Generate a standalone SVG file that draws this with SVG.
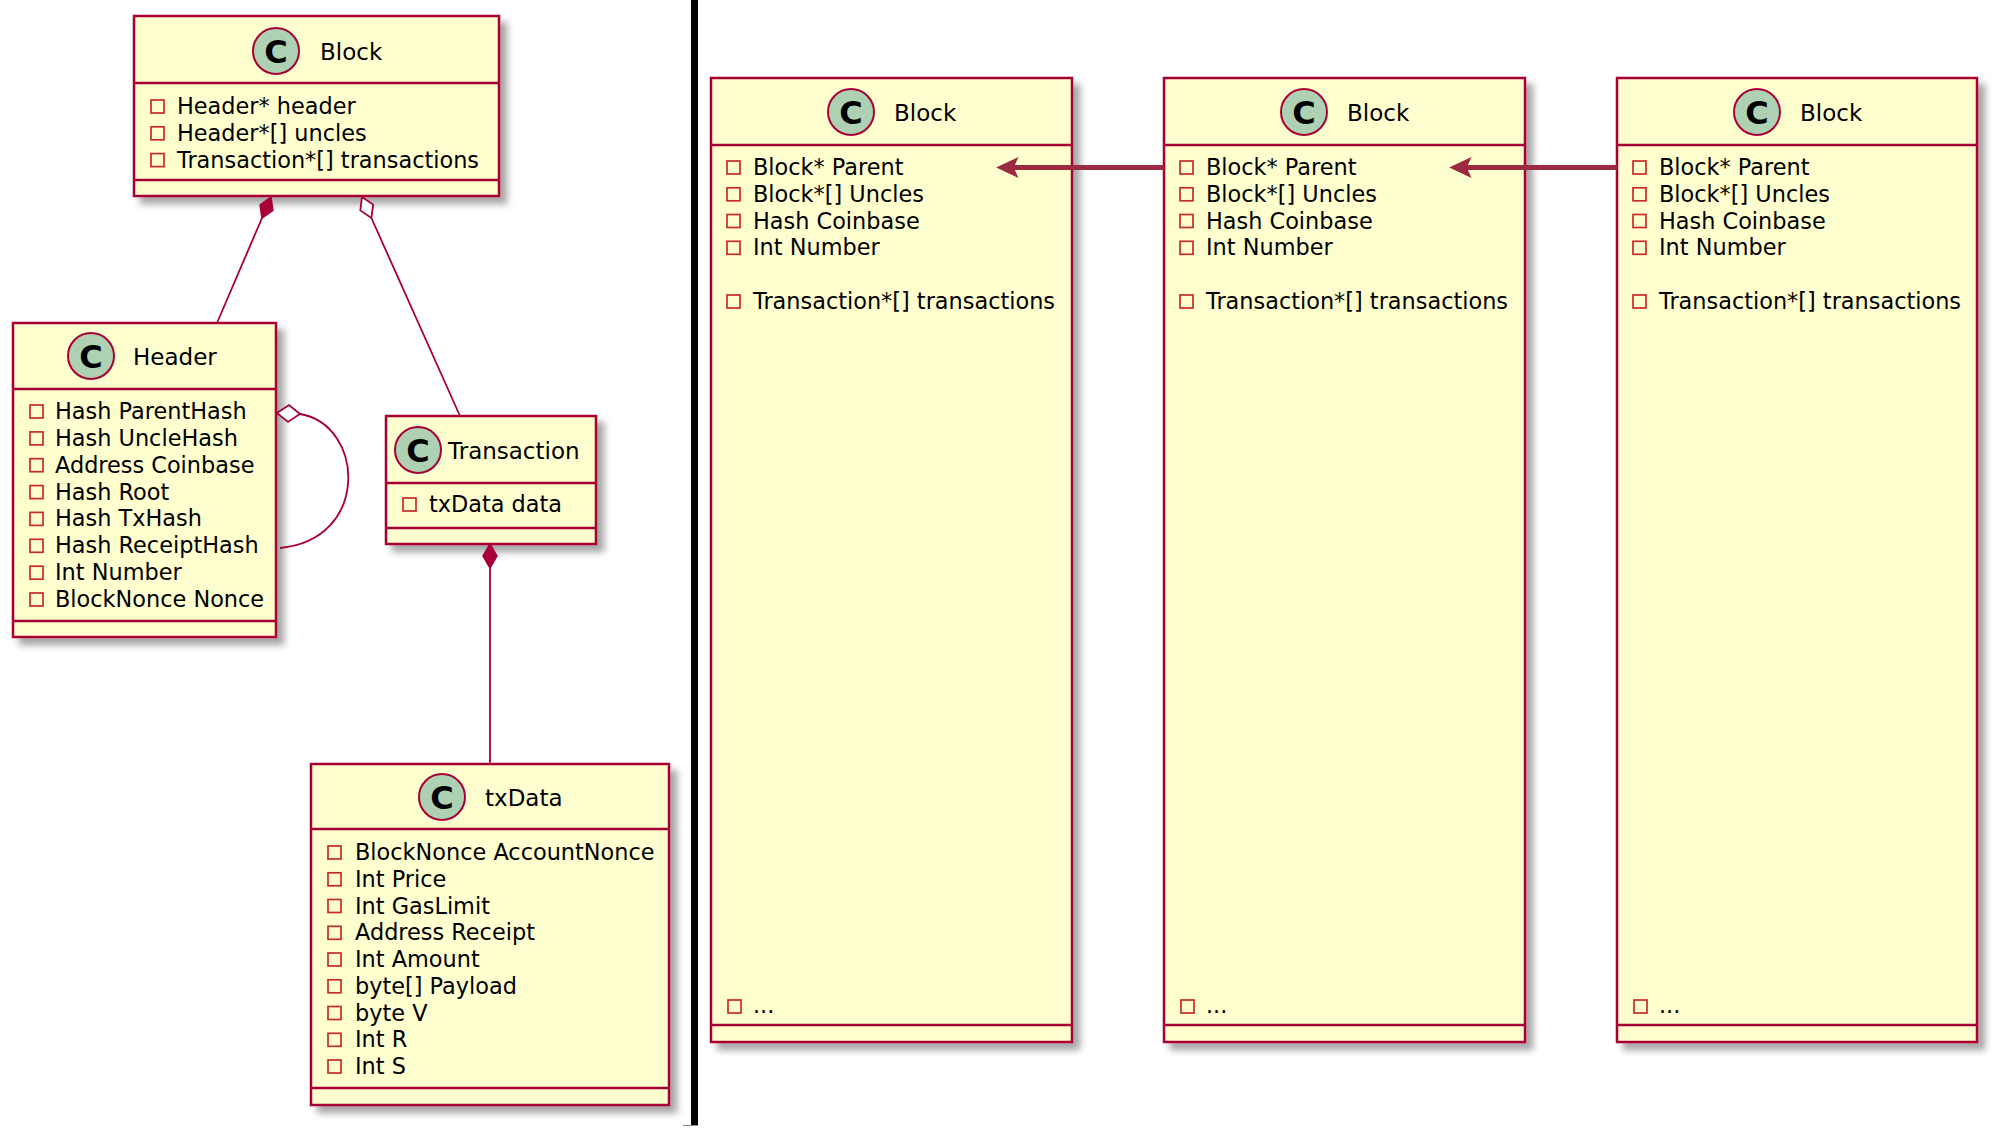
<svg xmlns="http://www.w3.org/2000/svg" width="1999" height="1133" viewBox="0 0 1999 1133">
<defs>
<filter id="sh" x="-10%" y="-10%" width="125%" height="125%">
<feDropShadow dx="7" dy="7" stdDeviation="3.5" flood-color="#000" flood-opacity="0.35"/>
</filter>
</defs>
<style>
.box{fill:#FEFECE;stroke:#A80036;stroke-width:2.5}
.sep{stroke:#A80036;stroke-width:2.5}
.circ{fill:#ADD1B2;stroke:#A80036;stroke-width:2}
.cl{font-family:"DejaVu Sans",sans-serif;font-weight:bold;font-size:32px;text-anchor:middle;fill:#000}
.ttl{font-family:"DejaVu Sans",sans-serif;font-size:23px;fill:#000}
.at{font-family:"DejaVu Sans",sans-serif;font-size:22.4px;fill:#000}
.sq{fill:none;stroke:#C82930;stroke-width:1.7}
.ln{fill:none;stroke:#A80036;stroke-width:1.8}
.arr{fill:none;stroke:#9C2A40;stroke-width:5}
.ah{fill:#9C2A40;stroke:#9C2A40;stroke-width:1.5}
</style>
<rect x="691" y="0" width="7" height="1125" fill="#000"/>
<line x1="683" y1="1125.5" x2="698" y2="1125.5" stroke="#888" stroke-width="1"/>
<g id="block-top">
<rect class="box" x="134" y="16" width="365" height="180" filter="url(#sh)"/>
<line class="sep" x1="134" y1="83" x2="499" y2="83"/>
<line class="sep" x1="134" y1="180" x2="499" y2="180"/>
<circle class="circ" cx="276" cy="51" r="23"/>
<text class="cl" x="276" y="62.5">C</text>
<text class="ttl" x="320" y="60">Block</text>
<rect class="sq" x="151" y="100" width="13" height="13"/>
<text class="at" x="177" y="114">Header* header</text>
<rect class="sq" x="151" y="126.8" width="13" height="13"/>
<text class="at" x="177" y="140.8">Header*[] uncles</text>
<rect class="sq" x="151" y="153.6" width="13" height="13"/>
<text class="at" x="177" y="167.6">Transaction*[] transactions</text>
</g>
<g id="header">
<rect class="box" x="13" y="323" width="263" height="314" filter="url(#sh)"/>
<line class="sep" x1="13" y1="389" x2="276" y2="389"/>
<line class="sep" x1="13" y1="621" x2="276" y2="621"/>
<circle class="circ" cx="91" cy="356" r="23"/>
<text class="cl" x="91" y="367.5">C</text>
<text class="ttl" x="133" y="365">Header</text>
<rect class="sq" x="30" y="405" width="13" height="13"/>
<text class="at" x="55" y="419">Hash ParentHash</text>
<rect class="sq" x="30" y="431.9" width="13" height="13"/>
<text class="at" x="55" y="445.9">Hash UncleHash</text>
<rect class="sq" x="30" y="458.7" width="13" height="13"/>
<text class="at" x="55" y="472.7">Address Coinbase</text>
<rect class="sq" x="30" y="485.6" width="13" height="13"/>
<text class="at" x="55" y="499.6">Hash Root</text>
<rect class="sq" x="30" y="512.4" width="13" height="13"/>
<text class="at" x="55" y="526.4">Hash TxHash</text>
<rect class="sq" x="30" y="539.3" width="13" height="13"/>
<text class="at" x="55" y="553.3">Hash ReceiptHash</text>
<rect class="sq" x="30" y="566.2" width="13" height="13"/>
<text class="at" x="55" y="580.2">Int Number</text>
<rect class="sq" x="30" y="593" width="13" height="13"/>
<text class="at" x="55" y="607">BlockNonce Nonce</text>
</g>
<g id="transaction">
<rect class="box" x="386" y="416" width="210" height="128" filter="url(#sh)"/>
<line class="sep" x1="386" y1="483" x2="596" y2="483"/>
<line class="sep" x1="386" y1="528" x2="596" y2="528"/>
<circle class="circ" cx="418" cy="450" r="23"/>
<text class="cl" x="418" y="461.5">C</text>
<text class="ttl" x="448" y="459">Transaction</text>
<rect class="sq" x="403" y="498" width="13" height="13"/>
<text class="at" x="429" y="512">txData data</text>
</g>
<g id="txdata">
<rect class="box" x="311" y="764" width="358" height="341" filter="url(#sh)"/>
<line class="sep" x1="311" y1="829" x2="669" y2="829"/>
<line class="sep" x1="311" y1="1088" x2="669" y2="1088"/>
<circle class="circ" cx="442" cy="797" r="23"/>
<text class="cl" x="442" y="808.5">C</text>
<text class="ttl" x="485" y="806">txData</text>
<rect class="sq" x="328" y="846" width="13" height="13"/>
<text class="at" x="355" y="860">BlockNonce AccountNonce</text>
<rect class="sq" x="328" y="872.8" width="13" height="13"/>
<text class="at" x="355" y="886.8">Int Price</text>
<rect class="sq" x="328" y="899.5" width="13" height="13"/>
<text class="at" x="355" y="913.5">Int GasLimit</text>
<rect class="sq" x="328" y="926.3" width="13" height="13"/>
<text class="at" x="355" y="940.3">Address Receipt</text>
<rect class="sq" x="328" y="953" width="13" height="13"/>
<text class="at" x="355" y="967">Int Amount</text>
<rect class="sq" x="328" y="979.8" width="13" height="13"/>
<text class="at" x="355" y="993.8">byte[] Payload</text>
<rect class="sq" x="328" y="1006.5" width="13" height="13"/>
<text class="at" x="355" y="1020.5">byte V</text>
<rect class="sq" x="328" y="1033.3" width="13" height="13"/>
<text class="at" x="355" y="1047.3">Int R</text>
<rect class="sq" x="328" y="1060" width="13" height="13"/>
<text class="at" x="355" y="1074">Int S</text>
</g>
<g id="block-1">
<rect class="box" x="711" y="78" width="361" height="964" filter="url(#sh)"/>
<line class="sep" x1="711" y1="145" x2="1072" y2="145"/>
<line class="sep" x1="711" y1="1025" x2="1072" y2="1025"/>
<circle class="circ" cx="851" cy="112" r="23"/>
<text class="cl" x="851" y="123.5">C</text>
<text class="ttl" x="894" y="121">Block</text>
<rect class="sq" x="727" y="161" width="13" height="13"/>
<text class="at" x="753" y="175">Block* Parent</text>
<rect class="sq" x="727" y="187.8" width="13" height="13"/>
<text class="at" x="753" y="201.8">Block*[] Uncles</text>
<rect class="sq" x="727" y="214.5" width="13" height="13"/>
<text class="at" x="753" y="228.5">Hash Coinbase</text>
<rect class="sq" x="727" y="241.3" width="13" height="13"/>
<text class="at" x="753" y="255.3">Int Number</text>
<rect class="sq" x="727" y="295" width="13" height="13"/>
<text class="at" x="753" y="308.8">Transaction*[] transactions</text>
<rect class="sq" x="728" y="1000" width="13" height="13"/>
<text class="at" x="753" y="1013">...</text>
</g>
<g id="block-2">
<rect class="box" x="1164" y="78" width="361" height="964" filter="url(#sh)"/>
<line class="sep" x1="1164" y1="145" x2="1525" y2="145"/>
<line class="sep" x1="1164" y1="1025" x2="1525" y2="1025"/>
<circle class="circ" cx="1304" cy="112" r="23"/>
<text class="cl" x="1304" y="123.5">C</text>
<text class="ttl" x="1347" y="121">Block</text>
<rect class="sq" x="1180" y="161" width="13" height="13"/>
<text class="at" x="1206" y="175">Block* Parent</text>
<rect class="sq" x="1180" y="187.8" width="13" height="13"/>
<text class="at" x="1206" y="201.8">Block*[] Uncles</text>
<rect class="sq" x="1180" y="214.5" width="13" height="13"/>
<text class="at" x="1206" y="228.5">Hash Coinbase</text>
<rect class="sq" x="1180" y="241.3" width="13" height="13"/>
<text class="at" x="1206" y="255.3">Int Number</text>
<rect class="sq" x="1180" y="295" width="13" height="13"/>
<text class="at" x="1206" y="308.8">Transaction*[] transactions</text>
<rect class="sq" x="1181" y="1000" width="13" height="13"/>
<text class="at" x="1206" y="1013">...</text>
</g>
<g id="block-3">
<rect class="box" x="1617" y="78" width="360" height="964" filter="url(#sh)"/>
<line class="sep" x1="1617" y1="145" x2="1977" y2="145"/>
<line class="sep" x1="1617" y1="1025" x2="1977" y2="1025"/>
<circle class="circ" cx="1757" cy="112" r="23"/>
<text class="cl" x="1757" y="123.5">C</text>
<text class="ttl" x="1800" y="121">Block</text>
<rect class="sq" x="1633" y="161" width="13" height="13"/>
<text class="at" x="1659" y="175">Block* Parent</text>
<rect class="sq" x="1633" y="187.8" width="13" height="13"/>
<text class="at" x="1659" y="201.8">Block*[] Uncles</text>
<rect class="sq" x="1633" y="214.5" width="13" height="13"/>
<text class="at" x="1659" y="228.5">Hash Coinbase</text>
<rect class="sq" x="1633" y="241.3" width="13" height="13"/>
<text class="at" x="1659" y="255.3">Int Number</text>
<rect class="sq" x="1633" y="295" width="13" height="13"/>
<text class="at" x="1659" y="308.8">Transaction*[] transactions</text>
<rect class="sq" x="1634" y="1000" width="13" height="13"/>
<text class="at" x="1659" y="1013">...</text>
</g>
<g id="connectors">
<line class="ln" x1="262" y1="218" x2="217" y2="323"/>
<polygon points="271,197 272.9,210.4 261.9,218.1 260.1,204.8" fill="#A80036" stroke="#A80036" stroke-width="1.5"/>
<line class="ln" x1="371.4" y1="218" x2="460" y2="416"/>
<polygon points="362,197 373.1,204.6 371.4,218 360.3,210.4" fill="#FFFFFF" stroke="#A80036" stroke-width="1.8"/>
<path class="ln" d="M300,414 C365,425 370,540 280,548"/>
<polygon points="277,413 289,405 300,414 288,422" fill="#FFFFFF" stroke="#A80036" stroke-width="1.8"/>
<line class="ln" x1="490" y1="568" x2="490" y2="764"/>
<polygon points="490,544 497,556 490,568 483,556" fill="#A80036" stroke="#A80036" stroke-width="1.5"/>
<line class="arr" x1="1164" y1="167.5" x2="1012" y2="167.5"/>
<polygon class="ah" points="998,167.5 1017,158.5 1013,167.5 1017,176.5"/>
<line class="arr" x1="1617" y1="167.5" x2="1465" y2="167.5"/>
<polygon class="ah" points="1451,167.5 1470,158.5 1466,167.5 1470,176.5"/>
</g>
</svg>
